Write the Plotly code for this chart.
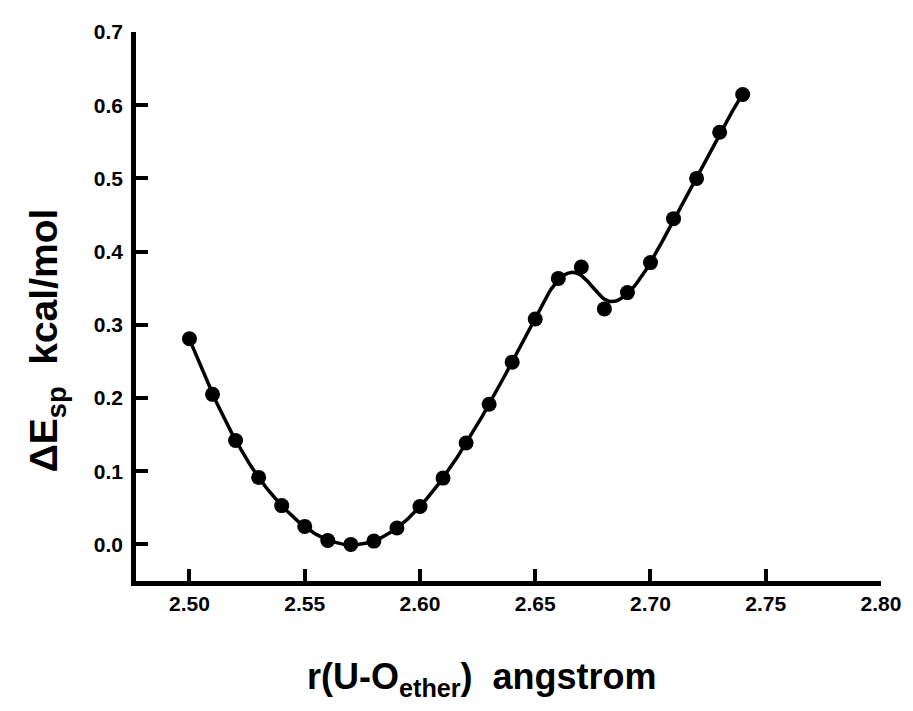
import numpy as np
import plotly.graph_objects as go

# Data
r_values = [2.50, 2.51, 2.52, 2.53, 2.54, 2.55, 2.56, 2.57, 2.58, 2.59,
            2.60, 2.61, 2.62, 2.63, 2.64, 2.65, 2.66, 2.67, 2.68, 2.69,
            2.70, 2.71, 2.72, 2.73, 2.74]
dE_values = [0.281, 0.205, 0.142, 0.0915, 0.053, 0.0246, 0.0054, 0.0, 0.0045, 0.0225,
             0.0517, 0.0906, 0.1386, 0.1915, 0.249, 0.308, 0.3634, 0.379, 0.3217, 0.344,
             0.385, 0.445, 0.500, 0.563, 0.6147]
x_ticks = [2.50, 2.55, 2.60, 2.65, 2.70, 2.75, 2.80]
y_ticks = [0.0, 0.1, 0.2, 0.3, 0.4, 0.5, 0.6, 0.7]

# Smoothed curve (Whittaker / discrete cubic smoothing spline) computed from data
x = np.array(r_values)
y = np.array(dE_values)
h = 0.001
grid = np.round(np.arange(x[0], x[-1] + h / 2, h), 6)
n = len(grid)
W = np.zeros(n)
yy = np.zeros(n)
for xi, yi in zip(x, y):
    k = int(round((xi - x[0]) / h))
    W[k] = 1.0
    yy[k] = yi
D = np.diff(np.eye(n), 2, axis=0)
lam = 80.0
z = np.linalg.solve(np.diag(W) + lam * D.T @ D, W * yy)

font_family = "Liberation Sans, Arial, sans-serif"

fig = go.Figure()
fig.add_trace(go.Scatter(x=grid, y=z, mode="lines",
                         line=dict(color="black", width=3.5), hoverinfo="skip"))
fig.add_trace(go.Scatter(x=r_values, y=dE_values, mode="markers",
                         marker=dict(color="black", size=15)))

fig.update_layout(
    width=905, height=703,
    margin=dict(l=128, r=25, t=16, b=130),
    paper_bgcolor="white", plot_bgcolor="white",
    showlegend=False,
    font=dict(family=font_family, color="black"),
)
fig.update_xaxes(
    range=[2.4768, 2.80], tickvals=x_ticks, ticktext=[f"{v:.2f}" for v in x_ticks],
    showgrid=False, zeroline=False, showline=True, linecolor="black", linewidth=4.5,
    ticks="inside", ticklen=12, tickwidth=4, tickcolor="black",
    tickfont=dict(size=21, family=font_family, color="black", weight="bold"),
)
fig.update_yaxes(
    range=[-0.05, 0.70], tickvals=y_ticks, ticktext=[f"{v:.1f}" for v in y_ticks],
    showgrid=False, zeroline=False, showline=True, linecolor="black", linewidth=4.5,
    ticks="inside", ticklen=12, tickwidth=4, tickcolor="black",
    ticklabelstandoff=4,
    tickfont=dict(size=21, family=font_family, color="black", weight="bold"),
)

px0, pw = 136, 752
py1, ph = 581, 557
fig.add_annotation(
    xref="paper", yref="paper", x=(485 - px0) / pw, y=(py1 - 680) / ph,
    text="<b>r(U-O<sub>ether</sub>)\u00a0\u00a0angstrom</b>", showarrow=False,
    font=dict(size=36, family=font_family, color="black"),
    xanchor="center", yanchor="middle",
)
fig.add_annotation(
    xref="paper", yref="paper", x=(46 - px0) / pw, y=(py1 - 337) / ph,
    text="<b>\u0394E<sub>sp</sub>\u00a0\u00a0kcal/mol</b>", showarrow=False, textangle=-90,
    font=dict(size=39, family=font_family, color="black"),
    xanchor="center", yanchor="middle",
)

fig.write_html("out.html")
